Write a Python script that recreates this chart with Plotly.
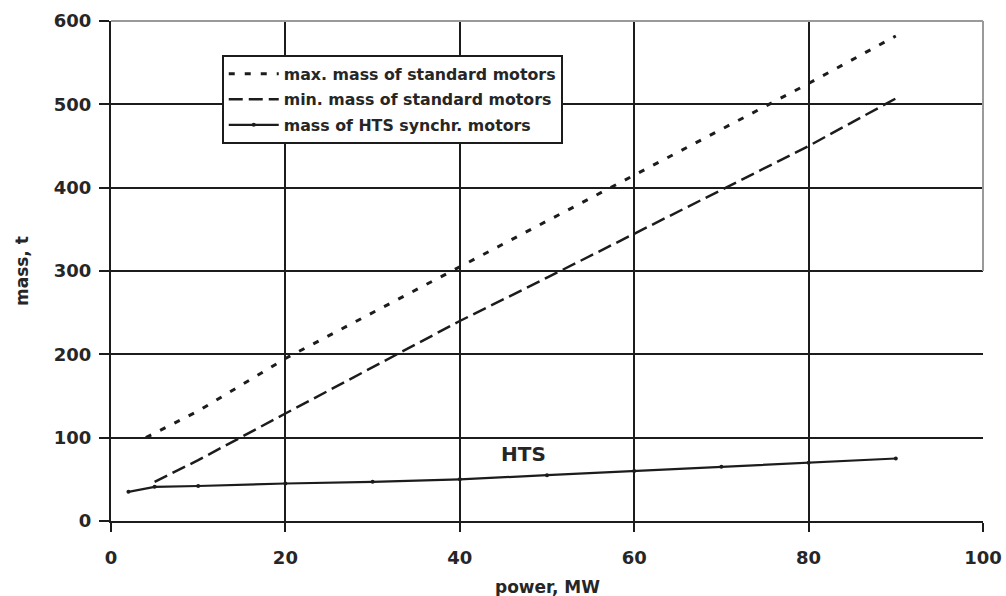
import plotly.graph_objects as go

# Motor mass versus rated power
power_max = [4, 10, 20, 30, 40, 50, 60, 70, 80, 90]
mass_max = [100, 132, 195, 250, 305, 360, 415, 470, 525, 582]

power_min = [5, 10, 20, 30, 40, 50, 60, 70, 80, 90]
mass_min = [47, 73, 129, 185, 240, 292, 345, 398, 450, 507]

power_hts = [2, 5, 10, 20, 30, 40, 50, 60, 70, 80, 90]
mass_hts = [35, 41, 42, 45, 47, 50, 55, 60, 65, 70, 75]

x_ticks = [0, 20, 40, 60, 80, 100]
y_ticks = [0, 100, 200, 300, 400, 500, 600]

FONT = "DejaVu Sans, Verdana, sans-serif"
INK = "#1c1c1c"
TXT = "#262626"

fig = go.Figure()

fig.add_trace(go.Scatter(
    x=power_max, y=mass_max, mode="lines",
    name="max. mass of standard motors", legendgroup="a",
    line=dict(color=INK, width=3, dash="6px,10px"),
))
fig.add_trace(go.Scatter(
    x=power_min, y=mass_min, mode="lines",
    name="min. mass of standard motors", legendgroup="b",
    line=dict(color=INK, width=2.5, dash="14px,6px"),
))
fig.add_trace(go.Scatter(
    x=power_hts, y=mass_hts, mode="lines+markers",
    name="mass of HTS synchr. motors", legendgroup="c",
    line=dict(color=INK, width=2.2),
    marker=dict(color=INK, size=4),
))

fig.add_annotation(
    x=47.3, y=80, text="<b>HTS</b>", showarrow=False,
    font=dict(family=FONT, size=20, color=TXT),
)

# axis titles
fig.add_annotation(
    xref="paper", yref="paper", x=0.5, y=-0.132, xanchor="center", yanchor="middle",
    text="<b>power, MW</b>", showarrow=False,
    font=dict(family=FONT, size=17, color=TXT),
)
fig.add_annotation(
    xref="paper", yref="paper", x=-0.102, y=0.5, xanchor="center", yanchor="middle",
    text="<b>mass, t</b>", textangle=-90, showarrow=False,
    font=dict(family=FONT, size=17, color=TXT),
)

# lighter frame along the top and right edges
fig.add_shape(type="line", xref="paper", yref="paper", x0=0, x1=1, y0=1, y1=1,
              line=dict(color="#9a9a9a", width=2), layer="above")
fig.add_shape(type="line", xref="paper", yref="paper", x0=1, x1=1, y0=0.5, y1=1,
              line=dict(color="#9a9a9a", width=2), layer="above")

fig.update_layout(
    width=1006, height=596,
    margin=dict(l=111, r=23, t=21, b=75),
    paper_bgcolor="white", plot_bgcolor="white",
    font=dict(family=FONT, color=TXT),
    showlegend=True,
    legend=dict(
        x=0.127, y=0.932, xanchor="left", yanchor="top",
        bgcolor="white", bordercolor=INK, borderwidth=2,
        font=dict(family=FONT, size=15.8, color=TXT, weight="bold"),
        traceorder="grouped", tracegroupgap=2, itemwidth=50,
    ),
    xaxis=dict(
        range=[0, 100], tickvals=x_ticks, automargin=False,
        showgrid=True, gridcolor=INK, gridwidth=2,
        zeroline=False, showline=True, linecolor=INK, linewidth=2,
        ticks="outside", ticklen=9, tickwidth=2, tickcolor=INK,
        ticklabelstandoff=10,
        tickfont=dict(family=FONT, size=18, color=TXT, weight="bold"),
    ),
    yaxis=dict(
        range=[0, 600], tickvals=y_ticks, automargin=False,
        showgrid=True, gridcolor=INK, gridwidth=2,
        zeroline=False, showline=True, linecolor=INK, linewidth=2,
        ticks="outside", ticklen=10, tickwidth=2, tickcolor=INK,
        ticklabelstandoff=4,
        tickfont=dict(family=FONT, size=18, color=TXT, weight="bold"),
    ),
)

fig.write_html("out.html")
